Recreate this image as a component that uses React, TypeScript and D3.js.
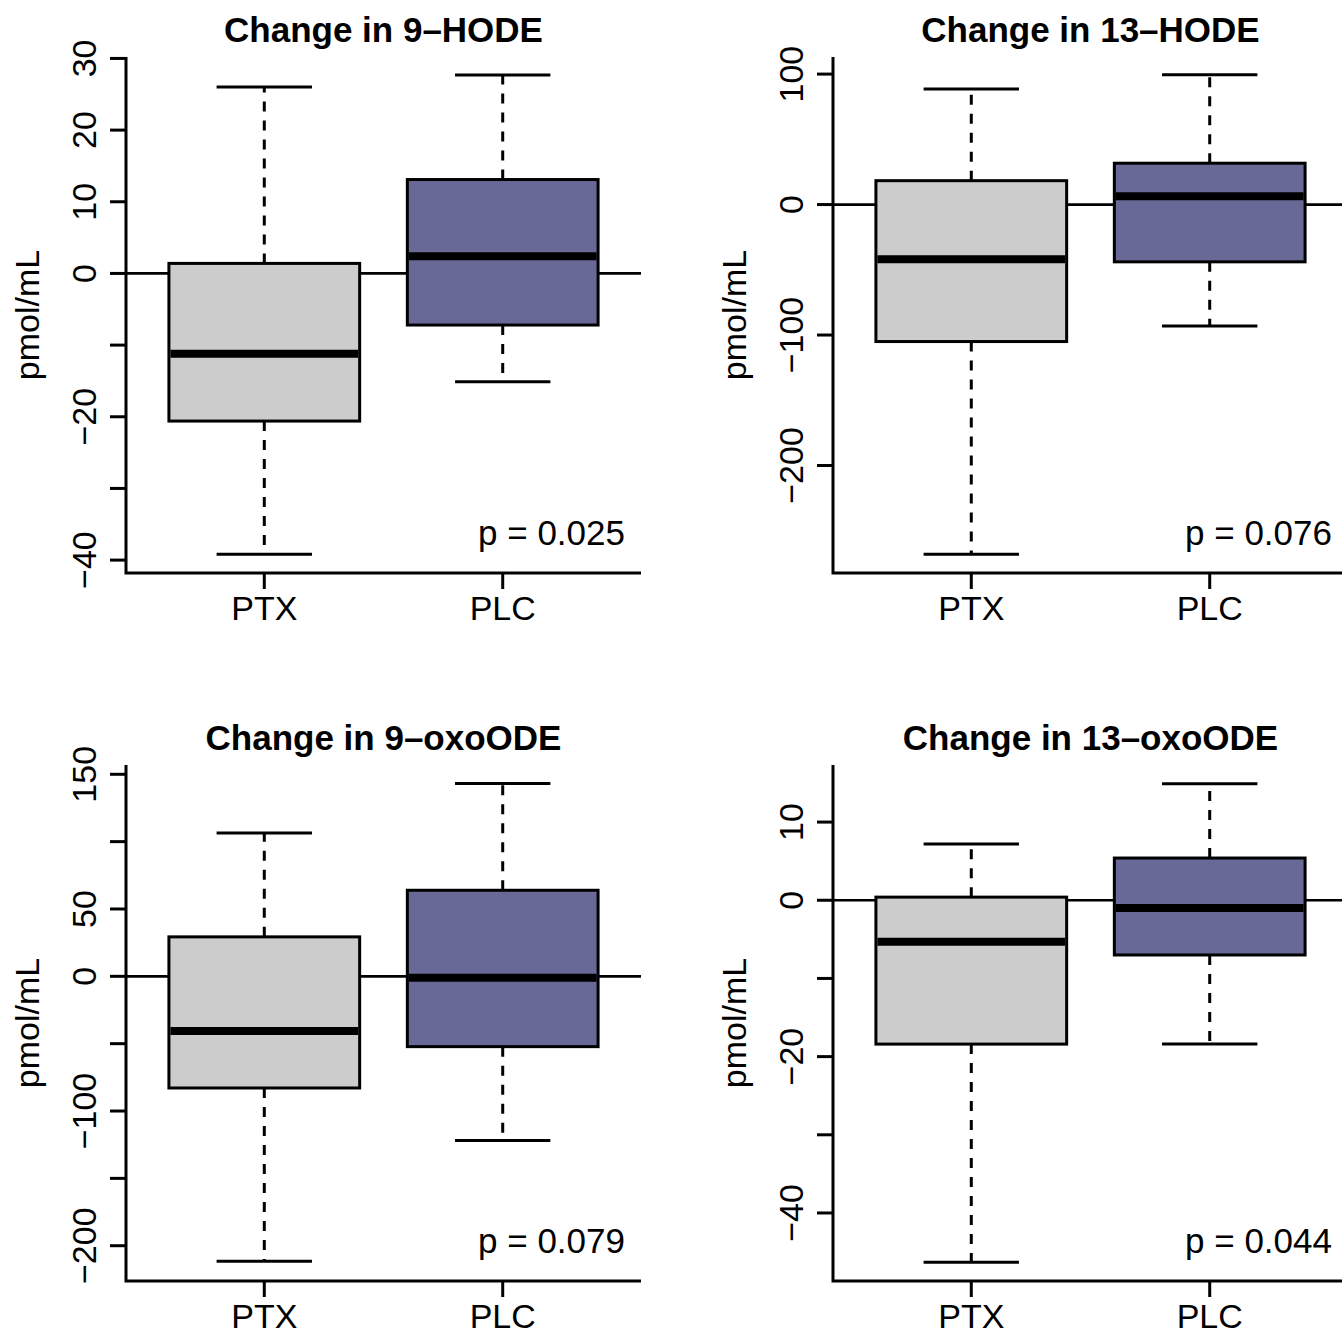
import React, { useEffect, useRef } from 'react';
import * as d3 from 'd3';

// group names on the x axis
const groups = ['PTX', 'PLC'];
const fills = ['#cccccc', '#696997'];

const titles = ['Change in 9\u2013HODE', 'Change in 13\u2013HODE', 'Change in 9\u2013oxoODE', 'Change in 13\u2013oxoODE'];
const pLabels = ['p = 0.025', 'p = 0.076', 'p = 0.079', 'p = 0.044'];

// box stats: [lower whisker, q1, median, q3, upper whisker]
const hode9PTX = [-39.2, -20.6, -11.2, 1.4, 26.0];
const hode9PLC = [-15.1, -7.2, 2.4, 13.1, 27.7];
const hode13PTX = [-268, -105, -42, 18.3, 88.6];
const hode13PLC = [-93, -43.9, 6.4, 31.7, 99.5];
const oxo9PTX = [-211.6, -82.9, -40.5, 29.3, 106.4];
const oxo9PLC = [-121.8, -52.2, -1.0, 63.9, 143.2];
const oxo13PTX = [-46.3, -18.4, -5.3, 0.4, 7.2];
const oxo13PLC = [-18.4, -7.0, -1.0, 5.4, 14.9];

const yDomains = [[-41.8, 30.2], [-282.4, 113.1], [-226.2, 156.9], [-48.7, 17.3]];
const yTicks = [
  [-40, -30, -20, -10, 0, 10, 20, 30],
  [-200, -100, 0, 100],
  [-200, -150, -100, -50, 0, 50, 100, 150],
  [-40, -30, -20, -10, 0, 10],
];
const yTickLabels = [
  [-40, -20, 0, 10, 20, 30],
  [-200, -100, 0, 100],
  [-200, -100, 0, 50, 150],
  [-40, -20, 0, 10],
];

const panelStats = [
  [hode9PTX, hode9PLC],
  [hode13PTX, hode13PLC],
  [oxo9PTX, oxo9PLC],
  [oxo13PTX, oxo13PLC],
];

const App = () => {
  const ref = useRef(null);

  useEffect(() => {
    const svg = d3.select(ref.current);
    svg.selectAll('*').remove();

    const pw = 515, ph = 516;
    const origins = [[126, 57], [833, 57], [126, 765], [833, 765]];
    const font = "'Liberation Sans', Arial, Helvetica, sans-serif";

    origins.forEach(([left, top], i) => {
      const x = d3.scaleLinear().domain([0.42, 2.58]).range([left, left + pw]);
      const y = d3.scaleLinear().domain(yDomains[i]).range([top + ph, top]);
      const g = svg.append('g');
      const bottom = top + ph;

      // reference line at zero
      g.append('line')
        .attr('x1', left).attr('x2', left + pw)
        .attr('y1', y(0)).attr('y2', y(0))
        .attr('stroke', 'black').attr('stroke-width', 2.7);

      panelStats[i].forEach((s, j) => {
        const cx = x(j + 1);
        const bw = x(1.4) - x(1);
        const cw = x(1.2) - x(1);
        const [lo, q1, med, q3, hi] = s;
        // whiskers
        g.append('line').attr('x1', cx).attr('x2', cx).attr('y1', y(q3)).attr('y2', y(hi))
          .attr('stroke', 'black').attr('stroke-width', 3).attr('stroke-dasharray', '10,9');
        g.append('line').attr('x1', cx).attr('x2', cx).attr('y1', y(q1)).attr('y2', y(lo))
          .attr('stroke', 'black').attr('stroke-width', 3).attr('stroke-dasharray', '10,9');
        [lo, hi].forEach(v => {
          g.append('line').attr('x1', cx - cw).attr('x2', cx + cw).attr('y1', y(v)).attr('y2', y(v))
            .attr('stroke', 'black').attr('stroke-width', 3);
        });
        g.append('rect')
          .attr('x', cx - bw).attr('width', 2 * bw)
          .attr('y', y(q3)).attr('height', y(q1) - y(q3))
          .attr('fill', fills[j]).attr('stroke', 'black').attr('stroke-width', 3);
        g.append('line').attr('x1', cx - bw + 1.5).attr('x2', cx + bw - 1.5).attr('y1', y(med)).attr('y2', y(med))
          .attr('stroke', 'black').attr('stroke-width', 8);
      });

      // L-shaped frame
      g.append('path')
        .attr('d', `M${left},${top}V${bottom}H${left + pw}`)
        .attr('fill', 'none').attr('stroke', 'black').attr('stroke-width', 3);

      // y ticks
      yTicks[i].forEach(t => {
        g.append('line').attr('x1', left - 16).attr('x2', left).attr('y1', y(t)).attr('y2', y(t))
          .attr('stroke', 'black').attr('stroke-width', 3);
      });
      yTickLabels[i].forEach(t => {
        g.append('text')
          .attr('transform', `translate(${left - 30},${y(t)}) rotate(-90)`)
          .attr('text-anchor', 'middle')
          .attr('font-family', font).attr('font-size', 34)
          .text(t < 0 ? '\u2212' + Math.abs(t) : String(t));
      });

      // x ticks
      groups.forEach((name, j) => {
        g.append('line').attr('x1', x(j + 1)).attr('x2', x(j + 1)).attr('y1', bottom).attr('y2', bottom + 16)
          .attr('stroke', 'black').attr('stroke-width', 3);
        g.append('text')
          .attr('x', x(j + 1)).attr('y', bottom + 47)
          .attr('text-anchor', 'middle')
          .attr('font-family', font).attr('font-size', 34)
          .text(name);
      });

      g.append('text')
        .attr('transform', `translate(${left - 87},${top + ph / 2}) rotate(-90)`)
        .attr('text-anchor', 'middle')
        .attr('font-family', font).attr('font-size', 34)
        .text('pmol/mL');

      g.append('text')
        .attr('x', left + pw / 2).attr('y', top - 15)
        .attr('text-anchor', 'middle')
        .attr('font-family', font).attr('font-size', 35).attr('font-weight', 'bold')
        .text(titles[i]);

      g.append('text')
        .attr('x', left + 499).attr('y', bottom - 28)
        .attr('text-anchor', 'end')
        .attr('font-family', font).attr('font-size', 35)
        .text(pLabels[i]);
    });
  }, []);

  return (
    <svg ref={ref} width={1342} height={1334}
      style={{ position: 'absolute', left: 0, top: 0, background: 'white' }} />
  );
};

export default App;
